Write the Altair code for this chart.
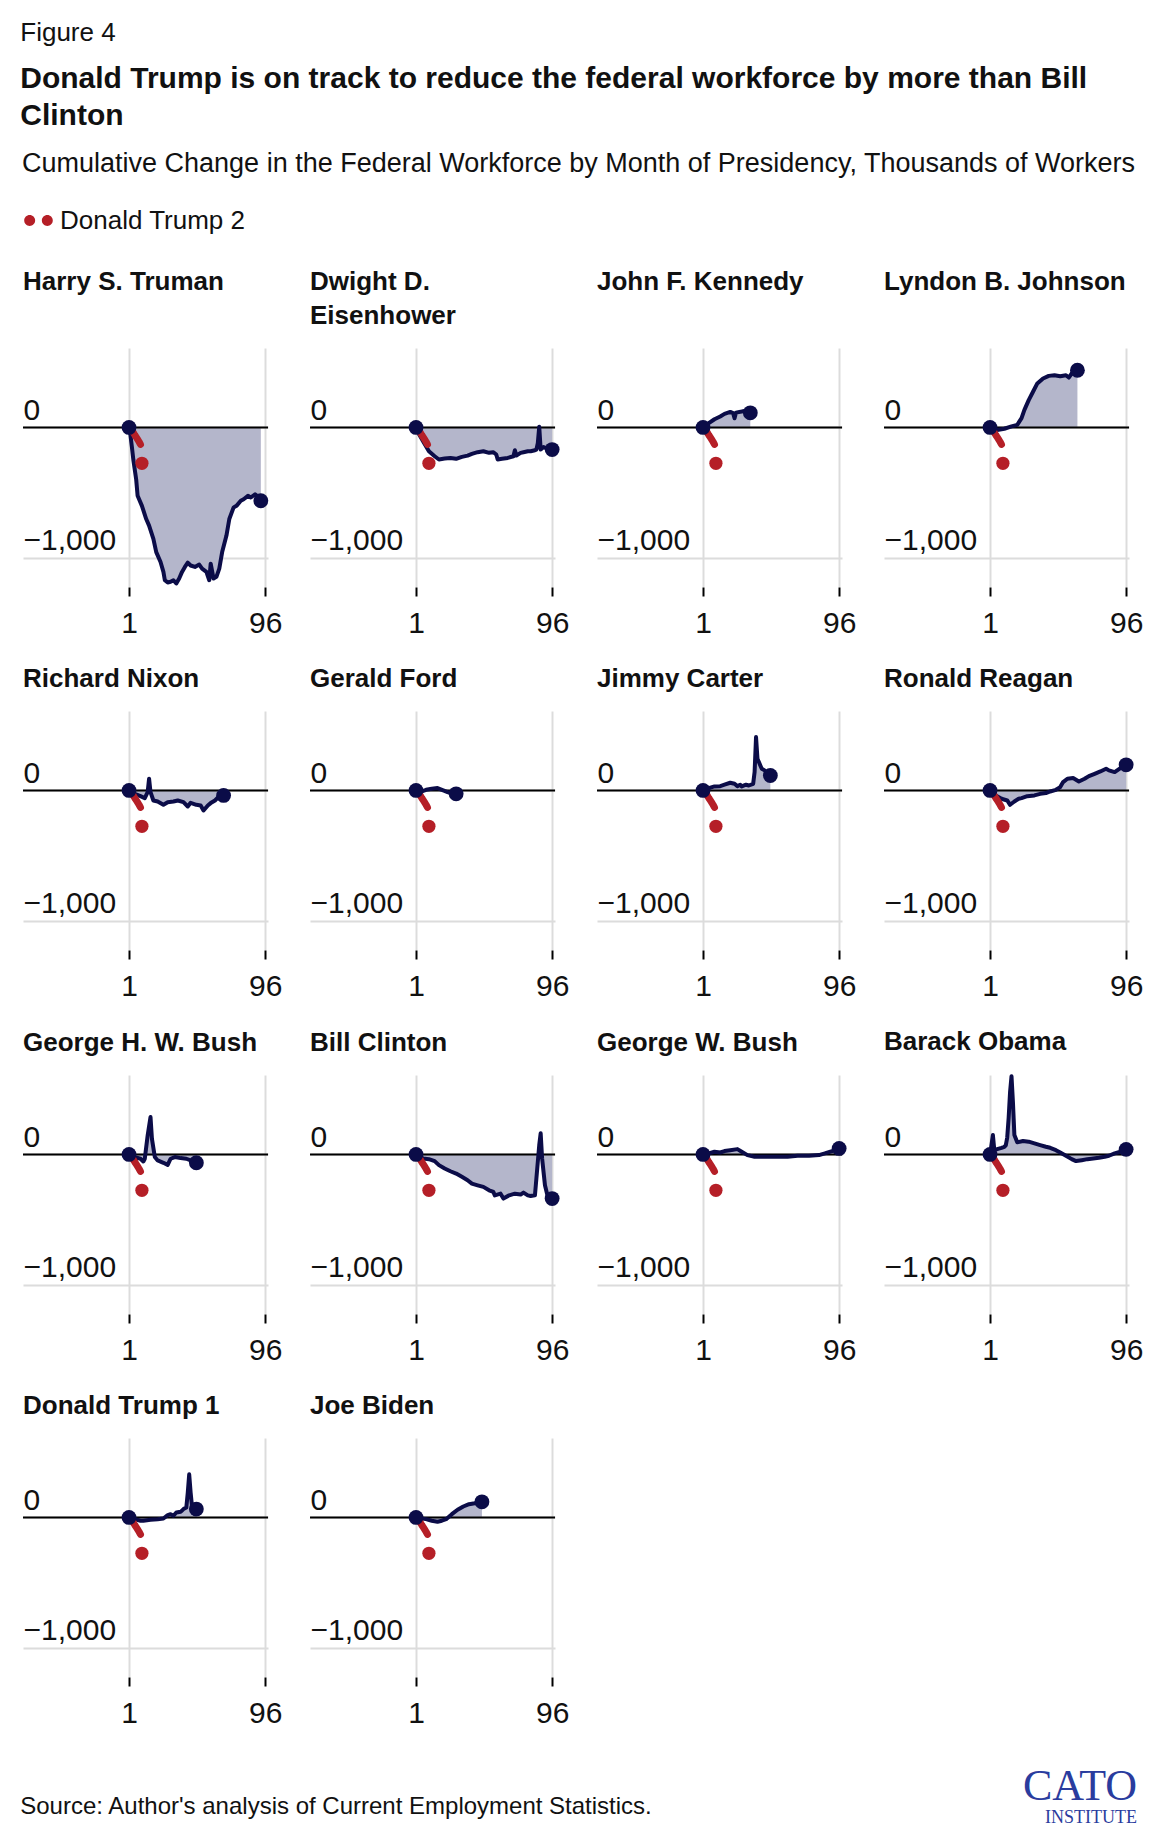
import altair as alt
import pandas as pd

FONT = "Liberation Sans"
SERIF = "Liberation Serif"
NAVY = "#0b0c48"
AREA = "#b4b6cb"
RED = "#b51f27"
GRID = "#dcdcdc"
LOGO_BLUE = "#2a3c9e"

PRESIDENTS = ["Harry S. Truman", "Dwight D. Eisenhower", "John F. Kennedy", "Lyndon B. Johnson",
              "Richard Nixon", "Gerald Ford", "Jimmy Carter", "Ronald Reagan",
              "George H. W. Bush", "Bill Clinton", "George W. Bush", "Barack Obama",
              "Donald Trump 1", "Joe Biden"]
PANEL_TITLES = [["Harry S. Truman", " "], ["Dwight D.", "Eisenhower"], ["John F. Kennedy", " "],
                ["Lyndon B. Johnson", " "],
                "Richard Nixon", "Gerald Ford", "Jimmy Carter", "Ronald Reagan",
                "George H. W. Bush", "Bill Clinton", "George W. Bush", "Barack Obama",
                "Donald Trump 1", "Joe Biden"]

# Cumulative change in thousands of workers by month of presidency
TRUMAN_MONTHS = [1, 2, 3, 4, 6, 7, 10, 13, 15, 18, 20, 23, 25, 26, 28, 30, 32, 34, 36, 38, 40, 42, 44, 47,
                 50, 52, 55, 57, 58, 60, 62, 64, 66, 69, 71, 74, 76, 79, 81, 84, 86, 89, 91, 93]
TRUMAN_VALUES = [0, -60, -150, -247, -400, -525, -602, -703, -754, -855, -957, -1033, -1109, -1173, -1190,
                 -1185, -1173, -1198, -1160, -1109, -1071, -1038, -1060, -1071, -1053, -1084, -1109, -1173,
                 -1046, -1160, -1147, -1084, -957, -830, -703, -614, -602, -563, -551, -525, -538, -513,
                 -530, -563]
EISENHOWER_MONTHS = [1, 3, 6, 10, 14, 17, 21, 25, 29, 33, 37, 40, 44, 48, 52, 55, 57, 58, 61, 65, 69, 70, 71,
                     74, 76, 79, 81, 84, 85, 86, 87, 88, 90, 93, 96]
EISENHOWER_VALUES = [0, -50, -107, -183, -221, -246, -239, -234, -241, -226, -216, -203, -190, -183, -195,
                     -190, -208, -246, -241, -234, -221, -175, -216, -195, -190, -183, -183, -175, -170,
                     -120, 5, -170, -150, -165, -170]
KENNEDY_MONTHS = [1, 3, 5, 9, 13, 16, 20, 22, 23, 24, 28, 31, 34]
KENNEDY_VALUES = [0, 15, 33, 63, 84, 104, 119, 110, 71, 114, 122, 129, 112]
JOHNSON_MONTHS = [1, 6, 11, 16, 20, 23, 25, 28, 31, 34, 38, 42, 46, 50, 54, 56, 58, 60, 62]
JOHNSON_VALUES = [0, -20, -10, 8, 20, 71, 135, 210, 274, 338, 376, 396, 401, 393, 401, 383, 414, 426, 439]
NIXON_MONTHS = [1, 5, 9, 12, 14, 15, 16, 18, 21, 25, 28, 32, 35, 39, 42, 44, 48, 51, 53, 56, 58, 61, 64, 67]
NIXON_VALUES = [0, -26, -44, -59, -13, 90, -13, -77, -85, -110, -90, -85, -77, -90, -123, -95, -110, -115,
                -154, -115, -97, -77, -44, -38]
FORD_MONTHS = [1, 5, 8, 12, 16, 20, 23, 25, 29]
FORD_VALUES = [0, -8, 5, 13, 18, 0, -13, -20, -26]
CARTER_MONTHS = [1, 5, 9, 13, 16, 20, 23, 25, 27, 28, 31, 33, 36, 37, 38, 39, 41, 42, 44, 48]
CARTER_VALUES = [0, 18, 31, 33, 44, 59, 51, 33, 44, 31, 44, 38, 51, 141, 410, 244, 192, 167, 154, 115]
REAGAN_MONTHS = [1, 5, 9, 13, 15, 18, 21, 23, 27, 32, 36, 40, 43, 47, 50, 52, 55, 59, 63, 67, 70, 74, 78, 82,
                 84, 88, 92, 96]
REAGAN_VALUES = [0, -38, -64, -77, -110, -85, -64, -59, -44, -38, -26, -20, -8, 5, 26, 64, 90, 95, 69, 90,
                 110, 128, 146, 167, 154, 141, 172, 197]
GHW_BUSH_MONTHS = [1, 5, 9, 11, 12, 14, 16, 17, 19, 21, 25, 28, 30, 33, 37, 41, 44, 48]
GHW_BUSH_VALUES = [0, -20, -33, -54, -33, 146, 287, 120, -20, -46, -64, -80, -33, -20, -28, -33, -46, -64]
CLINTON_MONTHS = [1, 6, 10, 14, 17, 21, 25, 29, 33, 37, 40, 44, 48, 52, 55, 56, 60, 62, 66, 70, 74, 76, 79,
                  81, 84, 85, 87, 88, 89, 91, 93, 96]
CLINTON_VALUES = [0, -31, -36, -51, -82, -108, -129, -147, -172, -198, -224, -237, -249, -275, -288, -314,
                  -301, -339, -314, -301, -308, -293, -314, -319, -314, -185, 72, 162, -31, -237, -327, -339]
GW_BUSH_MONTHS = [1, 5, 9, 13, 16, 20, 25, 28, 32, 37, 45, 52, 60, 67, 75, 82, 86, 91, 96]
GW_BUSH_VALUES = [0, 8, 21, 15, 26, 33, 41, 21, -5, -18, -18, -18, -18, -10, -10, -5, 8, 26, 46]
OBAMA_MONTHS = [1, 2, 3, 4, 6, 9, 11, 12, 13, 14, 15, 16, 17, 18, 20, 24, 28, 32, 36, 40, 43, 47, 50, 54,
                58, 61, 65, 69, 73, 77, 81, 84, 88, 92, 96]
OBAMA_VALUES = [0, 72, 149, 33, 41, 51, 59, 70, 130, 280, 480, 600, 400, 150, 93, 103, 98, 85, 72, 59, 51,
                33, 15, -10, -36, -51, -44, -36, -31, -26, -18, -10, 8, 21, 39]
TRUMP1_MONTHS = [1, 5, 9, 11, 16, 21, 25, 28, 30, 32, 34, 37, 39, 41, 42, 43, 44, 45, 46, 48]
TRUMP1_VALUES = [0, -13, -25, -25, -18, -13, -8, 18, 25, 13, 38, 43, 64, 76, 190, 331, 190, 80, 70, 64]
BIDEN_MONTHS = [1, 5, 8, 12, 16, 19, 22, 26, 30, 34, 38, 42, 47]
BIDEN_VALUES = [0, -8, -13, -25, -33, -25, -13, 25, 59, 84, 102, 109, 120]

# Donald Trump 2 (shown in every panel)
TRUMP2_MONTHS = [1, 2, 3, 4, 5, 6, 7, 8, 9]
TRUMP2_VALUES = [0, -12, -25, -40, -58, -75, -92, -110, -130]
TRUMP2_LATEST_MONTH = [10]
TRUMP2_LATEST_VALUE = [-275]
TRUMP2_LABEL = "Donald Trump 2"

X_TICKS = [1, 96]
Y_TICKS = [0, -1000]

SERIES = {
    "Harry S. Truman": (TRUMAN_MONTHS, TRUMAN_VALUES),
    "Dwight D. Eisenhower": (EISENHOWER_MONTHS, EISENHOWER_VALUES),
    "John F. Kennedy": (KENNEDY_MONTHS, KENNEDY_VALUES),
    "Lyndon B. Johnson": (JOHNSON_MONTHS, JOHNSON_VALUES),
    "Richard Nixon": (NIXON_MONTHS, NIXON_VALUES),
    "Gerald Ford": (FORD_MONTHS, FORD_VALUES),
    "Jimmy Carter": (CARTER_MONTHS, CARTER_VALUES),
    "Ronald Reagan": (REAGAN_MONTHS, REAGAN_VALUES),
    "George H. W. Bush": (GHW_BUSH_MONTHS, GHW_BUSH_VALUES),
    "Bill Clinton": (CLINTON_MONTHS, CLINTON_VALUES),
    "George W. Bush": (GW_BUSH_MONTHS, GW_BUSH_VALUES),
    "Barack Obama": (OBAMA_MONTHS, OBAMA_VALUES),
    "Donald Trump 1": (TRUMP1_MONTHS, TRUMP1_VALUES),
    "Joe Biden": (BIDEN_MONTHS, BIDEN_VALUES),
}

XS = alt.Scale(domain=[-73, 98], nice=False, zero=False)
YS = alt.Scale(domain=[-1225, 610], nice=False, zero=False)
X_AXIS = alt.Axis(values=X_TICKS, title=None, grid=True, gridColor=GRID, gridWidth=2, domain=False,
                  ticks=True, tickColor="black", tickWidth=2, tickSize=9, labelFontSize=30,
                  labelFont=FONT, labelColor="#111111", labelPadding=12, labelFlush=False)
Y_AXIS = alt.Axis(values=Y_TICKS, title=None, format=",d", grid=True, gridColor=GRID, gridWidth=2,
                  domain=False, ticks=False, tickSize=0, labelAlign="left", labelBaseline="alphabetic",
                  labelPadding=0, labelOffset=-8, labelFontSize=30, labelFont=FONT, labelColor="#111111")

TWO_DOTS = ("M -0.94 0 A 0.36 0.36 0 1 0 -0.22 0 A 0.36 0.36 0 1 0 -0.94 0 Z "
            "M 0.22 0 A 0.36 0.36 0 1 0 0.94 0 A 0.36 0.36 0 1 0 0.22 0 Z")


def X():
    return alt.X("month:Q", scale=XS, axis=X_AXIS)


def Y():
    return alt.Y("value:Q", scale=YS, axis=Y_AXIS)


def panel(name, title):
    months, values = SERIES[name]
    df = pd.DataFrame({"month": months, "value": values})
    ends = df.iloc[[0, len(df) - 1]]
    t2 = pd.DataFrame({"month": TRUMP2_MONTHS, "value": TRUMP2_VALUES})
    t2pts = pd.DataFrame({"month": [TRUMP2_MONTHS[0]] + TRUMP2_LATEST_MONTH,
                          "value": [TRUMP2_VALUES[0]] + TRUMP2_LATEST_VALUE,
                          "series": TRUMP2_LABEL})
    zero = pd.DataFrame({"value": [0]})

    area = alt.Chart(df).mark_area(color=AREA, opacity=1).encode(x=X(), y=Y(), y2=alt.datum(0))
    rule = alt.Chart(zero).mark_rule(color="black", strokeWidth=2).encode(y=Y())
    line = alt.Chart(df).mark_line(color=NAVY, strokeWidth=4, strokeJoin="round").encode(x=X(), y=Y())
    red_line = alt.Chart(t2).mark_line(color=RED, strokeWidth=7, strokeCap="round",
                                       strokeJoin="round").encode(x=X(), y=Y())
    red_pts = alt.Chart(t2pts).mark_circle(size=175, opacity=1).encode(
        x=X(), y=Y(),
        color=alt.Color("series:N", scale=alt.Scale(domain=[TRUMP2_LABEL], range=[RED]),
                        legend=alt.Legend(title=None, orient="top", symbolType=TWO_DOTS, symbolSize=925,
                                          symbolStrokeWidth=0, symbolOpacity=1, labelFontSize=26,
                                          labelFont=FONT, labelColor="#111111", labelOffset=6,
                                          labelLimit=0, offset=35, padding=0)))
    dots = alt.Chart(ends).mark_circle(size=220, color=NAVY, opacity=1).encode(x=X(), y=Y())

    return alt.layer(area, rule, line, red_line, red_pts, dots).properties(
        width=245, height=239,
        title=alt.TitleParams(title, anchor="start", frame="group", fontSize=26, fontWeight="bold",
                              font=FONT, color="#111111", offset=19, lineHeight=34))


panels = [panel(n, t) for n, t in zip(PRESIDENTS, PANEL_TITLES)]

grid = alt.concat(*panels, columns=4, spacing={"row": 28, "column": 27}).properties(
    title=alt.TitleParams(
        "Cumulative Change in the Federal Workforce by Month of Presidency, Thousands of Workers",
        anchor="start", fontSize=27, fontWeight="normal", font=FONT, color="#111111", offset=27))

blank = pd.DataFrame({"v": [0]})
source = alt.Chart(blank).mark_point(opacity=0).encode(x=alt.value(0), y=alt.value(0)).properties(
    width=900, height=1,
    title=alt.TitleParams("Source: Author's analysis of Current Employment Statistics.", anchor="start",
                          fontSize=24, fontWeight="normal", font=FONT, color="#111111", offset=10))
logo = alt.Chart(blank).mark_point(opacity=0).encode(x=alt.value(0), y=alt.value(0)).properties(
    width=211, height=1,
    title=alt.TitleParams("CATO", subtitle="INSTITUTE", anchor="end", font=SERIF, fontSize=44,
                          fontWeight="normal", color=LOGO_BLUE, subtitleFont=SERIF, subtitleFontSize=18,
                          subtitleColor=LOGO_BLUE, subtitlePadding=0, offset=2))
footer = alt.hconcat(source, logo, spacing=0)

chart = alt.vconcat(grid, footer, spacing=37).properties(
    title=alt.TitleParams(
        "Figure 4",
        subtitle=["Donald Trump is on track to reduce the federal workforce by more than Bill", "Clinton"],
        anchor="start", fontSize=26, fontWeight="normal", font=FONT, color="#111111",
        subtitleFont=FONT, subtitleFontSize=30, subtitleFontWeight="bold", subtitleColor="#111111",
        subtitleLineHeight=37, subtitlePadding=18, offset=19),
    padding={"left": 12, "top": 12, "right": 5, "bottom": 5},
    background="white",
).resolve_scale(color="independent").configure(font=FONT).configure_view(stroke=None)

chart.save("out.html", embed_options={"renderer": "svg", "actions": False})
